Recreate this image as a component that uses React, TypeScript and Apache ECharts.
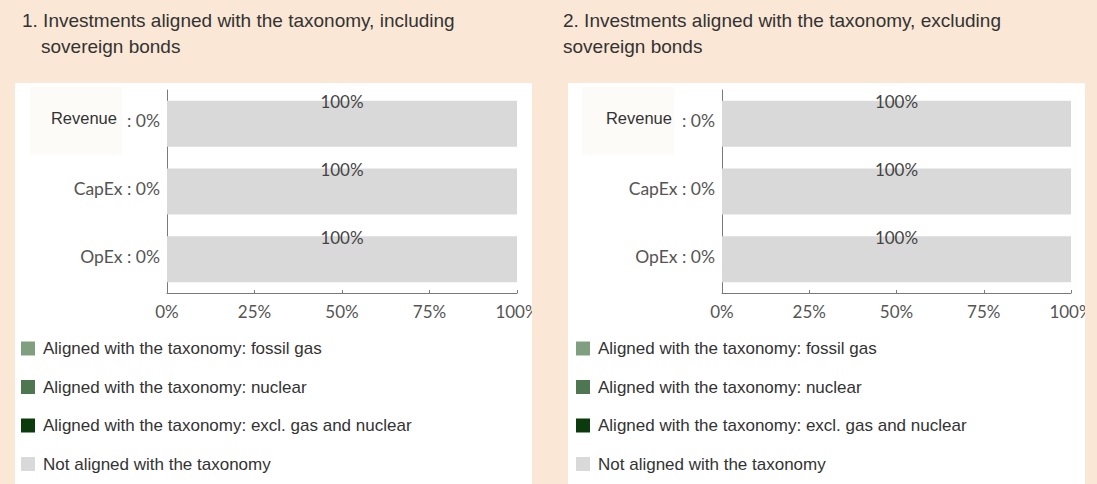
import React, { useEffect, useRef } from "react";
import * as echarts from "echarts";

const categories = ["Revenue", "CapEx", "OpEx"];
const categoryAligned = [0, 0, 0];
const seriesNames = [
  "Aligned with the taxonomy: fossil gas",
  "Aligned with the taxonomy: nuclear",
  "Aligned with the taxonomy: excl. gas and nuclear",
  "Not aligned with the taxonomy",
];
const seriesColors = ["#7f9f80", "#4e7650", "#0b3b0c", "#d9d9d9"];
// values per panel: [fossil gas, nuclear, excl., not aligned] for each category
const panel1Values = [
  [0, 0, 0],
  [0, 0, 0],
  [0, 0, 0],
  [100, 100, 100],
];
const panel2Values = [
  [0, 0, 0],
  [0, 0, 0],
  [0, 0, 0],
  [100, 100, 100],
];
const xTicks = [0, 25, 50, 75, 100];
const titles1 = ["1. Investments aligned with the taxonomy, including", "sovereign bonds"];
const titles2 = ["2. Investments aligned with the taxonomy, excluding", "sovereign bonds"];

const PEACH = "#fae7d6";
const AXIS_FONT = "Lato, 'Open Sans', sans-serif";
const MAIN_FONT = "'Liberation Sans', Arial, sans-serif";

export default function App() {
  const ref = useRef<HTMLDivElement>(null);
  useEffect(() => {
    if (!ref.current) return;
    const chart = echarts.init(ref.current, undefined, { renderer: "svg" });

    const grids = [
      { left: 167, right: 1097 - 517, top: 90, bottom: 484 - 293 },
      { left: 722, right: 1097 - 1071, top: 90, bottom: 484 - 293 },
    ];
    const mkX = (i: number) => ({
      type: "value",
      gridIndex: i,
      min: xTicks[0],
      max: xTicks[xTicks.length - 1],
      interval: xTicks[1] - xTicks[0],
      splitLine: { show: false },
      axisLine: { show: true, lineStyle: { color: "#7a7a7a", width: 1 } },
      axisTick: { show: true, inside: true, length: 3, lineStyle: { color: "#7a7a7a" } },
      axisLabel: {
        formatter: "{value}%",
        margin: 10,
        fontSize: 17,
        color: "#555",
        fontFamily: AXIS_FONT,
      },
    });
    const mkY = (i: number) => ({
      type: "category",
      gridIndex: i,
      data: categories,
      inverse: true,
      axisLine: { show: true, lineStyle: { color: "#7a7a7a", width: 1 } },
      axisTick: { show: false },
      axisLabel: {
        margin: 7,
        fontSize: 17.5,
        color: "#555",
        fontFamily: AXIS_FONT,
        padding: [0, 0, 6, 0],
        formatter: (v: string, idx: number) =>
          v === "Revenue" ? `{r|${v}}: ${categoryAligned[idx]}%` : `${v} : ${categoryAligned[idx]}%`,
        rich: { r: { fontSize: 16.5, fontFamily: MAIN_FONT, color: "#333", padding: [0, 10, 6, 0] } },
      },
    });

    const series: any[] = [];
    [panel1Values, panel2Values].forEach((vals, p) => {
      vals.forEach((data, s) => {
        series.push({
          type: "bar",
          name: seriesNames[s],
          xAxisIndex: p,
          yAxisIndex: p,
          stack: "total" + p,
          barWidth: 46,
          data,
          itemStyle: { color: seriesColors[s] },
          label: {
            show: s === 3,
            position: ["50%", 0],
            align: "center",
            verticalAlign: "middle",
            offset: [0, 1],
            formatter: "{c}%",
            fontSize: 17,
            color: "#444",
            fontFamily: AXIS_FONT,
          },
        });
      });
    });

    const mkLegend = (left: number) => ({
      orient: "vertical",
      left,
      top: 340,
      padding: 0,
      data: seriesNames,
      icon: "rect",
      itemWidth: 14,
      itemHeight: 14,
      itemGap: 21.5,
      textStyle: { fontSize: 17, color: "#333", fontFamily: MAIN_FONT, lineHeight: 17, padding: [0, 0, 0, 3] },
      selectedMode: false,
    });

    const titleText = (x1: number, x2: number, lines: string[]) => [
      {
        type: "text",
        left: x1,
        top: 11,
        style: { text: lines[0], fontSize: 19, fill: "#333", fontFamily: MAIN_FONT },
      },
      {
        type: "text",
        left: x2,
        top: 37,
        style: { text: lines[1], fontSize: 19, fill: "#333", fontFamily: MAIN_FONT },
      },
    ];

    chart.setOption({
      animation: false,
      backgroundColor: PEACH,
      graphic: [
        { type: "rect", z: -10, shape: { x: 15, y: 83, width: 517, height: 401 }, style: { fill: "#ffffff" } },
        { type: "rect", z: -10, shape: { x: 568, y: 83, width: 517, height: 401 }, style: { fill: "#ffffff" } },
        { type: "rect", z: -9, shape: { x: 30, y: 87, width: 92, height: 68 }, style: { fill: "#fcfbf8" } },
        { type: "rect", z: -9, shape: { x: 582, y: 87, width: 92, height: 68 }, style: { fill: "#fcfbf8" } },
        { type: "rect", z: 100, shape: { x: 532, y: 300, width: 36, height: 30 }, style: { fill: PEACH } },
        { type: "rect", z: 100, shape: { x: 1085, y: 300, width: 12, height: 30 }, style: { fill: PEACH } },
        ...titleText(22, 41, titles1),
        ...titleText(563, 563, titles2),
      ],
      grid: grids,
      xAxis: [mkX(0), mkX(1)],
      yAxis: [mkY(0), mkY(1)],
      legend: [mkLegend(21), mkLegend(576)],
      series,
    });
    return () => chart.dispose();
  }, []);
  return (
    <div
      ref={ref}
      style={{ position: "absolute", left: 0, top: 0, width: 1097, height: 484 }}
    />
  );
}
